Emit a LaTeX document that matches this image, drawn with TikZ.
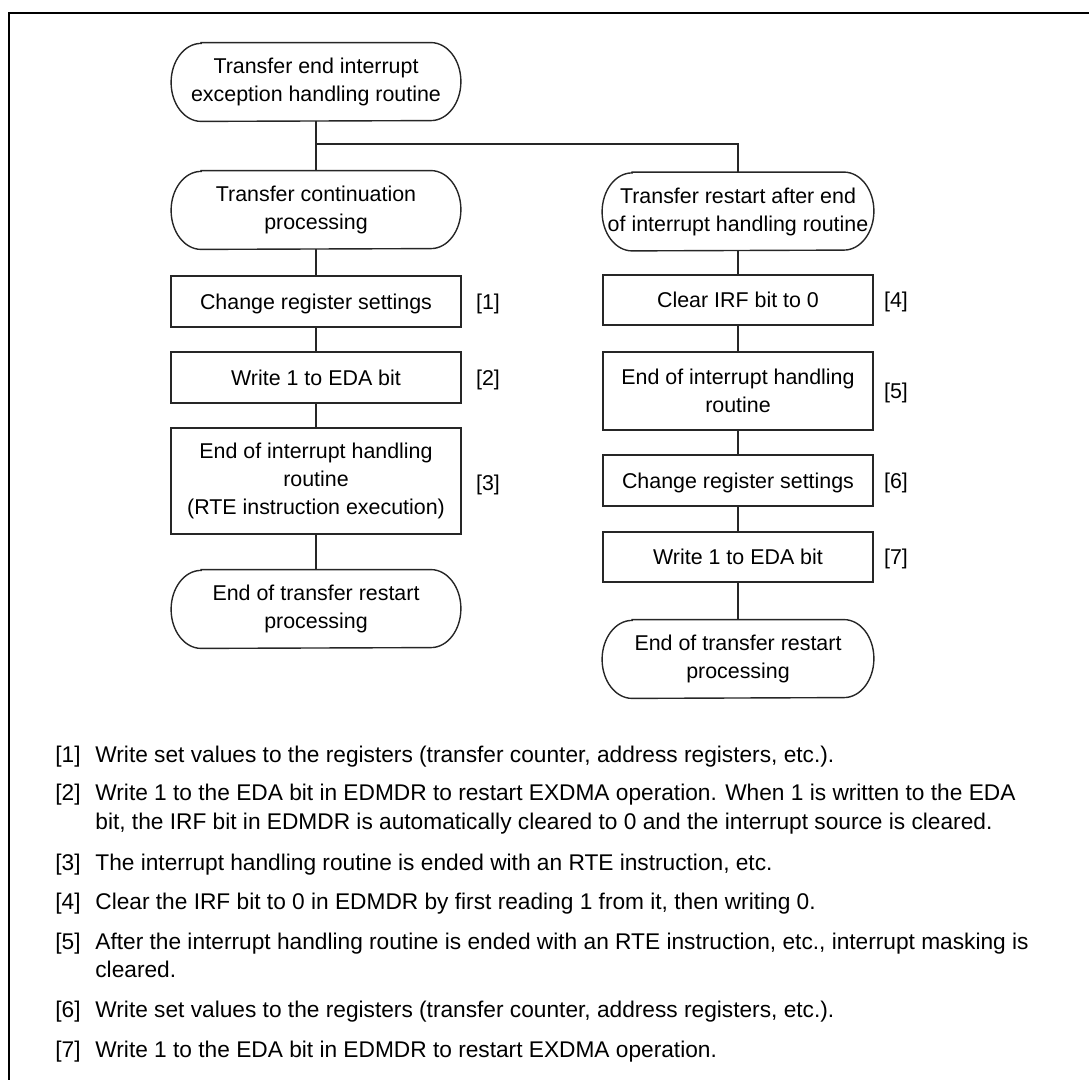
\documentclass[tikz,border=0pt]{standalone}
\usepackage{fontspec}
\setmainfont{Liberation Sans}

\tikzset{
  term/.style={align=center, inner sep=0pt, minimum height=39pt},
  box/.style={draw=black!85, line width=0.7pt, align=center, inner sep=0pt},
  single/.style={text height=7.7pt, text depth=0pt},
  link/.style={draw=black!85, line width=0.6pt},
  note/.style={anchor=base west, inner sep=0pt, font=\fontsize{11.35}{14}\selectfont},
}

\begin{document}
\begin{tikzpicture}[x=0.5pt,y=-0.5pt,font=\fontsize{10.7}{14}\selectfont]
    \useasboundingbox (0,0) rectangle (1089,1080);
    \draw[line width=1.2pt] (9,1080) -- (9,13) -- (1089,13);

    % left column
    \node[term, minimum width=144.5pt] (start) at (316,82) {Transfer end interrupt\\exception handling routine};
    \node[term, minimum width=144.5pt] (cont) at (316,210) {Transfer continuation\\processing};
    \node[box, single, minimum width=145pt, minimum height=25.5pt] (b1) at (316,301.5) {Change register settings};
    \node[box, single, minimum width=145pt, minimum height=25.5pt] (b2) at (316,377.5) {Write 1 to EDA bit};
    \node[box, minimum width=145pt, minimum height=53pt] (b3) at (316,481) {End of interrupt handling\\routine\\(RTE instruction execution)};
    \node[term, minimum width=144.5pt] (endl) at (316,609) {End of transfer restart\\processing};
    \node[single] (l1) at (488,301.5) {[1]};
    \node[single] (l2) at (488,377.5) {[2]};
    \node[single] (l3) at (488,483) {[3]};

    % right column
    \node[term, minimum width=135.5pt] (rest) at (738,211.5) {Transfer restart after end\\of interrupt handling routine};
    \node[box, single, minimum width=135pt, minimum height=25pt] (b4) at (738,300) {Clear IRF bit to 0};
    \node[box, minimum width=135pt, minimum height=39pt] (b5) at (738,391) {End of interrupt handling\\routine};
    \node[box, single, minimum width=135pt, minimum height=25.5pt] (b6) at (738,480.5) {Change register settings};
    \node[box, single, minimum width=135pt, minimum height=25pt] (b7) at (738,557) {Write 1 to EDA bit};
    \node[term, minimum width=135.5pt] (endr) at (738,659) {End of transfer restart\\processing};
    \node[single] (l4) at (896,300) {[4]};
    \node[single] (l5) at (896,391) {[5]};
    \node[single] (l6) at (896,480.5) {[6]};
    \node[single] (l7) at (896,557) {[7]};

    % terminal outlines
    \foreach \n in {start,cont,endl,rest,endr}
        \draw[link, line width=0.7pt] ([xshift=15pt]\n.north west) -- ([xshift=-15pt]\n.north east)
            arc[start angle=90, end angle=-90, x radius=15pt, y radius=19.5pt]
            -- ([xshift=15pt]\n.south west)
            arc[start angle=270, end angle=90, x radius=15pt, y radius=19.5pt] -- cycle;

    % connectors
    \coordinate (split) at (316,144);
    \draw[link] (start) -- (cont);
    \draw[link] (split) -| (rest.north);
    \draw[link] (cont) -- (b1) (b1) -- (b2) (b2) -- (b3) (b3) -- (endl);
    \draw[link] (rest) -- (b4) (b4) -- (b5) (b5) -- (b6) (b6) -- (b7) (b7) -- (endr);

    % notes
    \node[note] (n1) at (55,763) {[1]};
    \node[note] (t1) at (95,763) {Write set values to the registers (transfer counter, address registers, etc.).};
    \node[note] (n2) at (55,801) {[2]};
    \node[note] (t2a) at (95,801) {Write 1 to the EDA bit in EDMDR to restart EXDMA operation. When 1 is written to the EDA};
    \node[note] (t2b) at (95,830) {bit, the IRF bit in EDMDR is automatically cleared to 0 and the interrupt source is cleared.};
    \node[note] (n3) at (55,871) {[3]};
    \node[note] (t3) at (95,871) {The interrupt handling routine is ended with an RTE instruction, etc.};
    \node[note] (n4) at (55,910) {[4]};
    \node[note] (t4) at (95,910) {Clear the IRF bit to 0 in EDMDR by first reading 1 from it, then writing 0.};
    \node[note] (n5) at (55,950) {[5]};
    \node[note] (t5a) at (95,950) {After the interrupt handling routine is ended with an RTE instruction, etc., interrupt masking is};
    \node[note] (t5b) at (95,978) {cleared.};
    \node[note] (n6) at (55,1018) {[6]};
    \node[note] (t6) at (95,1018) {Write set values to the registers (transfer counter, address registers, etc.).};
    \node[note] (n7) at (55,1058) {[7]};
    \node[note] (t7) at (95,1058) {Write 1 to the EDA bit in EDMDR to restart EXDMA operation.};
\end{tikzpicture}
\end{document}
